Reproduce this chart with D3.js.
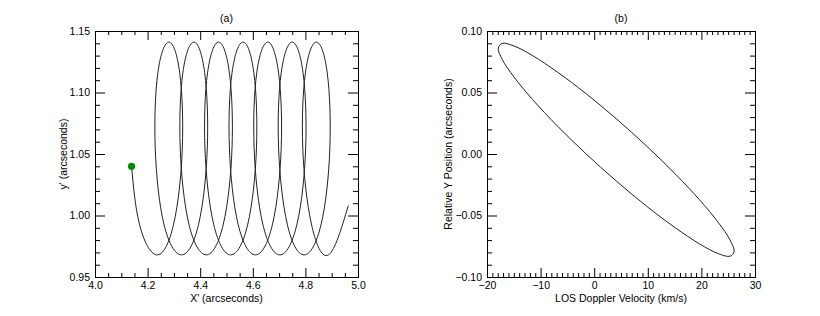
<!DOCTYPE html>
<html>
<head>
<meta charset="utf-8">
<script src="https://cdn.jsdelivr.net/npm/d3@7"></script>
<style>
body { margin: 0; background: #fff; }
text { font-family: "Liberation Sans", Arial, Helvetica, sans-serif; }
</style>
</head>
<body>
<div id="chart"></div>
<script>
// panel (a): apparent track on the sky
var trackX = [4.139, 4.169,
    4.234, 4.299, 4.332, 4.322, 4.281, 4.239, 4.229, 4.262,
    4.329, 4.394, 4.427, 4.417, 4.376, 4.334, 4.324, 4.357,
    4.423, 4.488, 4.521, 4.511, 4.470, 4.428, 4.418, 4.451,
    4.516, 4.581, 4.614, 4.604, 4.563, 4.521, 4.511, 4.544,
    4.610, 4.675, 4.708, 4.698, 4.657, 4.615, 4.605, 4.638,
    4.703, 4.768, 4.801, 4.791, 4.750, 4.708, 4.698, 4.731,
    4.795, 4.860, 4.893, 4.883, 4.842, 4.800, 4.790, 4.823,
    4.888, 4.963];
var trackY = [1.040, 0.993,
    0.968, 0.993, 1.055, 1.116, 1.141, 1.116, 1.055, 0.993,
    0.968, 0.993, 1.055, 1.116, 1.141, 1.116, 1.055, 0.993,
    0.968, 0.993, 1.055, 1.116, 1.141, 1.116, 1.055, 0.993,
    0.968, 0.993, 1.055, 1.116, 1.141, 1.116, 1.055, 0.993,
    0.968, 0.993, 1.055, 1.116, 1.141, 1.116, 1.055, 0.993,
    0.968, 0.993, 1.055, 1.116, 1.141, 1.116, 1.055, 0.993,
    0.968, 0.993, 1.055, 1.116, 1.141, 1.116, 1.055, 0.993,
    0.968, 1.008];
// starting point (green dot)
var startX = 4.139, startY = 1.040;

// panel (b): doppler velocity vs relative y position (closed loop)
var velX = [26.10, 25.35, 23.15, 19.66, 15.10, 9.79, 4.10, -1.59, -6.90, -11.46, -14.95, -17.15,
    -17.90, -17.15, -14.95, -11.46, -6.90, -1.59, 4.10, 9.79, 15.10, 19.66, 23.15, 25.35];
var posY = [-0.0794, -0.0831, -0.0810, -0.0731, -0.0599, -0.0425, -0.0219, 0.0004, 0.0229, 0.0441, 0.0625, 0.0768,
    0.0862, 0.0899, 0.0878, 0.0799, 0.0667, 0.0493, 0.0287, 0.0064, -0.0161, -0.0373, -0.0557, -0.0700];

// tick labels
var aTicksX = [4.0, 4.2, 4.4, 4.6, 4.8, 5.0];
var aTicksY = [0.95, 1.00, 1.05, 1.10, 1.15];
var bTicksX = [-20, -10, 0, 10, 20, 30];
var bTicksY = [-0.10, -0.05, 0.00, 0.05, 0.10];

var svg = d3.select("#chart")
    .append("svg")
    .attr("width", 820)
    .attr("height", 316);

function drawPanel(p) {
    var g = svg.append("g")
        .attr("transform", "translate(" + p.left + "," + p.top + ")");

    var x = d3.scaleLinear().domain(p.xDomain).range([0, p.width]);
    var y = d3.scaleLinear().domain(p.yDomain).range([p.height, 0]);

    // minor ticks on all four sides
    var minorX = x.ticks(p.minorX).filter(function(v) { return p.ticksX.indexOf(+v.toFixed(4)) < 0; });
    var minorY = y.ticks(p.minorY).filter(function(v) { return p.ticksY.indexOf(+v.toFixed(4)) < 0; });

    function axisSet(axisFn, scale, vals, size, fmt, tr) {
        var a = g.append("g")
            .attr("transform", tr)
            .call(axisFn(scale).tickValues(vals).tickSize(-size).tickPadding(5).tickFormat(fmt));
        a.select(".domain").remove();
        a.selectAll("text").attr("font-size", "10.5px").attr("fill", "#000")
            .attr("font-family", "'Liberation Sans', Arial, sans-serif");
        a.selectAll("line").attr("stroke", "#000");
        return a;
    }
    var none = function() { return ""; };

    axisSet(d3.axisBottom, x, p.ticksX, 9, p.fmtX, "translate(0," + p.height + ")");
    axisSet(d3.axisBottom, x, minorX, 4, none, "translate(0," + p.height + ")");
    axisSet(d3.axisTop, x, p.ticksX, 9, none, "translate(0,0)");
    axisSet(d3.axisTop, x, minorX, 4, none, "translate(0,0)");
    axisSet(d3.axisLeft, y, p.ticksY, 10, p.fmtY, "translate(0,0)");
    axisSet(d3.axisLeft, y, minorY, 5, none, "translate(0,0)");
    axisSet(d3.axisRight, y, p.ticksY, 10, none, "translate(" + p.width + ",0)");
    axisSet(d3.axisRight, y, minorY, 5, none, "translate(" + p.width + ",0)");

    // frame
    g.append("rect")
        .attr("x", 0.5).attr("y", 0.5)
        .attr("width", p.width).attr("height", p.height)
        .attr("fill", "none").attr("stroke", "#000").attr("stroke-width", 1);

    // title
    g.append("text")
        .attr("x", p.width / 2).attr("y", -9)
        .attr("text-anchor", "middle")
        .attr("font-size", "10.5px")
        .text(p.title);

    // x label
    g.append("text")
        .attr("x", p.width / 2).attr("y", p.height + 25)
        .attr("text-anchor", "middle")
        .attr("font-size", "10.5px")
        .text(p.xLabel);

    // y label
    g.append("text")
        .attr("transform", "translate(" + p.yLabelX + "," + (p.height / 2) + ") rotate(-90)")
        .attr("text-anchor", "middle")
        .attr("font-size", "10.5px")
        .text(p.yLabel);

    return {g: g, x: x, y: y};
}

// panel (a)
var pa = drawPanel({
    left: 95, top: 31, width: 263, height: 246,
    xDomain: [4.0, 5.0], yDomain: [0.95, 1.15],
    ticksX: aTicksX, ticksY: aTicksY, minorX: 20, minorY: 20,
    fmtX: d3.format(".1f"), fmtY: d3.format(".2f"),
    title: "(a)", xLabel: "X' (arcseconds)", yLabel: "y' (arcseconds)", yLabelX: -28
});

var track = d3.range(trackX.length).map(function(i) { return [trackX[i], trackY[i]]; });

pa.g.append("path")
    .datum(track)
    .attr("fill", "none")
    .attr("stroke", "#222")
    .attr("stroke-width", 1)
    .attr("d", d3.line()
        .x(function(d) { return pa.x(d[0]); })
        .y(function(d) { return pa.y(d[1]); })
        .curve(d3.curveNatural));

pa.g.append("circle")
    .attr("cx", pa.x(startX))
    .attr("cy", pa.y(startY))
    .attr("r", 3.6)
    .attr("fill", "#008a00");

// panel (b)
var pb = drawPanel({
    left: 487, top: 31, width: 268, height: 246,
    xDomain: [-20, 30], yDomain: [-0.10, 0.10],
    ticksX: bTicksX, ticksY: bTicksY, minorX: 50, minorY: 20,
    fmtX: d3.format("d"), fmtY: d3.format(".2f"),
    title: "(b)", xLabel: "LOS Doppler Velocity (km/s)", yLabel: "Relative Y Position (arcseconds)", yLabelX: -35
});

var loop = d3.range(velX.length).map(function(i) { return [velX[i], posY[i]]; });

pb.g.append("path")
    .datum(loop)
    .attr("fill", "none")
    .attr("stroke", "#222")
    .attr("stroke-width", 1)
    .attr("d", d3.line()
        .x(function(d) { return pb.x(d[0]); })
        .y(function(d) { return pb.y(d[1]); })
        .curve(d3.curveCatmullRomClosed));
</script>
</body>
</html>
